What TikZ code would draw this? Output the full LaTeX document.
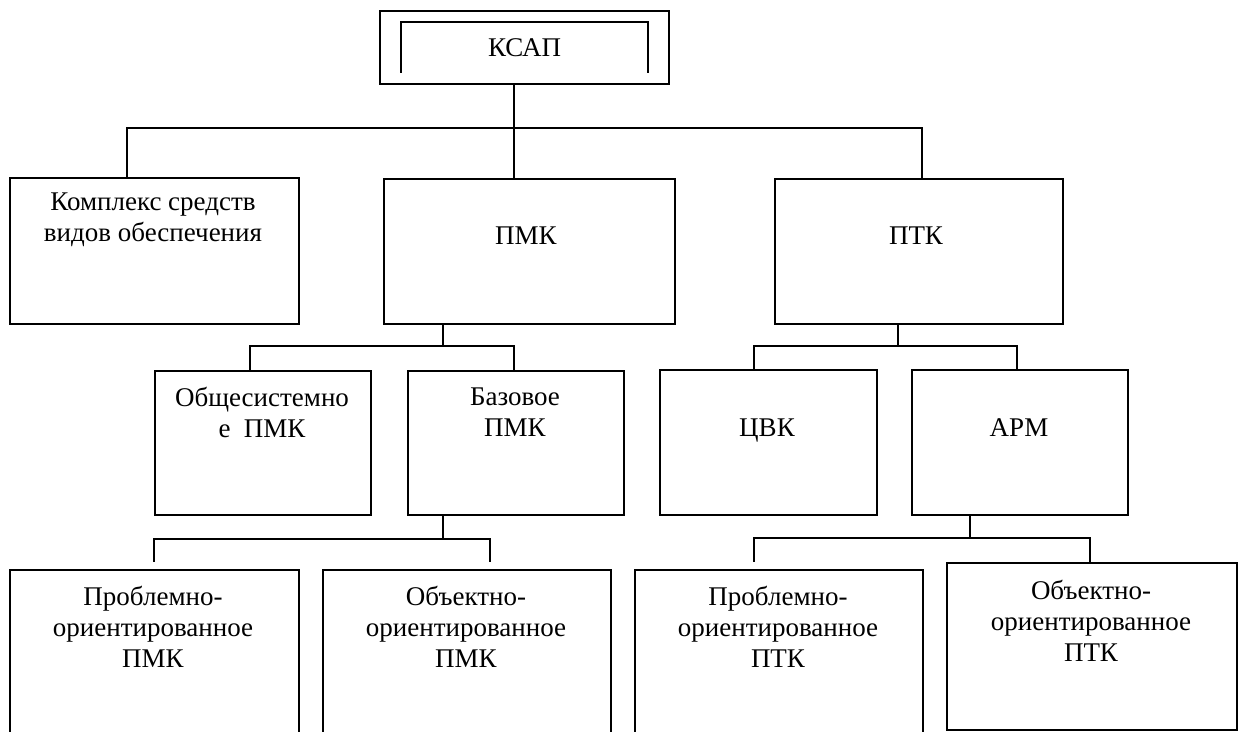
\documentclass[tikz,border=0pt]{standalone}
\usepackage{fontspec}
\setmainfont{Liberation Serif}
\usetikzlibrary{calc}
\tikzset{
box/.style 2 args={draw, line width=1pt, rectangle, anchor=north west, inner sep=0pt,
  minimum width=#1*0.5pt, minimum height=#2*0.5pt},
txt/.style={align=center, inner sep=0pt, font=\fontsize{13.5}{15.5}\selectfont},
conn/.style={line width=1pt}
}

\begin{document}
\begin{tikzpicture}[x=0.5pt,y=-0.5pt]
\useasboundingbox (0,0) rectangle (1238,732);
\clip (0,0) rectangle (1238,732);
% top
\node[box={289}{73}, txt] (ksap) at (379,10) {КСАП};
\draw[conn] ($(ksap.south west)+(22,-12)$) |- ($(ksap.north east)+(-22,12)$) -- ($(ksap.south east)+(-22,-12)$);
% first row
\node[box={289}{146}] (kompl) at (9,177) {};
\node[box={291}{145}] (pmk) at (383,178) {};
\node[box={288}{145}] (ptk) at (774,178) {};
\node[txt] (kompl-t) at (153,220) {Комплекс средств\\видов обеспечения};
\node[txt, anchor=base] (pmk-t) at (526,245) {ПМК};
\node[txt, anchor=base] (ptk-t) at (916,245) {ПТК};
% second row
\node[box={216}{144}] (obsh) at (154,370) {};
\node[box={216}{144}] (baz) at (407,370) {};
\node[box={217}{145}] (cvk) at (659,369) {};
\node[box={216}{145}] (arm) at (911,369) {};
\node[txt] (obsh-t) at (262,412) {Общесистемно\\е\ \ ПМК};
\node[txt] (baz-t) at (515,412) {Базовое\\ПМК};
\node[txt, anchor=base] (cvk-t) at (767,437) {ЦВК};
\node[txt, anchor=base] (arm-t) at (1019,437) {АРМ};
% third row
\node[box={289}{200}] (pp1) at (9,569) {};
\node[box={288}{200}] (op1) at (322,569) {};
\node[box={288}{200}] (pp2) at (634,569) {};
\node[box={290}{167}] (op2) at (946,562) {};
\node[txt] (pp1-t) at (153,627) {Проблемно-\\ориентированное\\ПМК};
\node[txt] (op1-t) at (466,627) {Объектно-\\ориентированное\\ПМК};
\node[txt] (pp2-t) at (778,627) {Проблемно-\\ориентированное\\ПТК};
\node[txt] (op2-t) at (1091,621) {Объектно-\\ориентированное\\ПТК};
% connectors
\coordinate (j1) at (514,128);
\coordinate (b1l) at (127,128);
\coordinate (b1r) at (922,128);
\draw[conn] (ksap.south -| j1) -- (j1 |- pmk.north);
\draw[conn] (b1l |- kompl.north) |- (b1r) -- (b1r |- ptk.north);
\coordinate (j2) at (443,346);
\coordinate (b2l) at (250,346);
\coordinate (b2r) at (514,346);
\draw[conn] (pmk.south -| j2) -- (j2);
\draw[conn] (b2l |- obsh.north) |- (b2r) -- (b2r |- baz.north);
\coordinate (j3) at (898,346);
\coordinate (b3l) at (754,346);
\coordinate (b3r) at (1017,346);
\draw[conn] (ptk.south -| j3) -- (j3);
\draw[conn] (b3l |- cvk.north) |- (b3r) -- (b3r |- arm.north);
\coordinate (j4) at (443,539);
\coordinate (b4l) at (154,539);
\coordinate (b4r) at (490,539);
\draw[conn] (baz.south -| j4) -- (j4);
\draw[conn] ([yshift=3.5pt]pp1.north -| b4l) |- (b4r) -- ([yshift=3.5pt]op1.north -| b4r);
\coordinate (j5) at (970,538);
\coordinate (b5l) at (754,538);
\coordinate (b5r) at (1090,538);
\draw[conn] (arm.south -| j5) -- (j5);
\draw[conn] ([yshift=3.5pt]pp2.north -| b5l) |- (b5r) -- (b5r |- op2.north);
\end{tikzpicture}
\end{document}
